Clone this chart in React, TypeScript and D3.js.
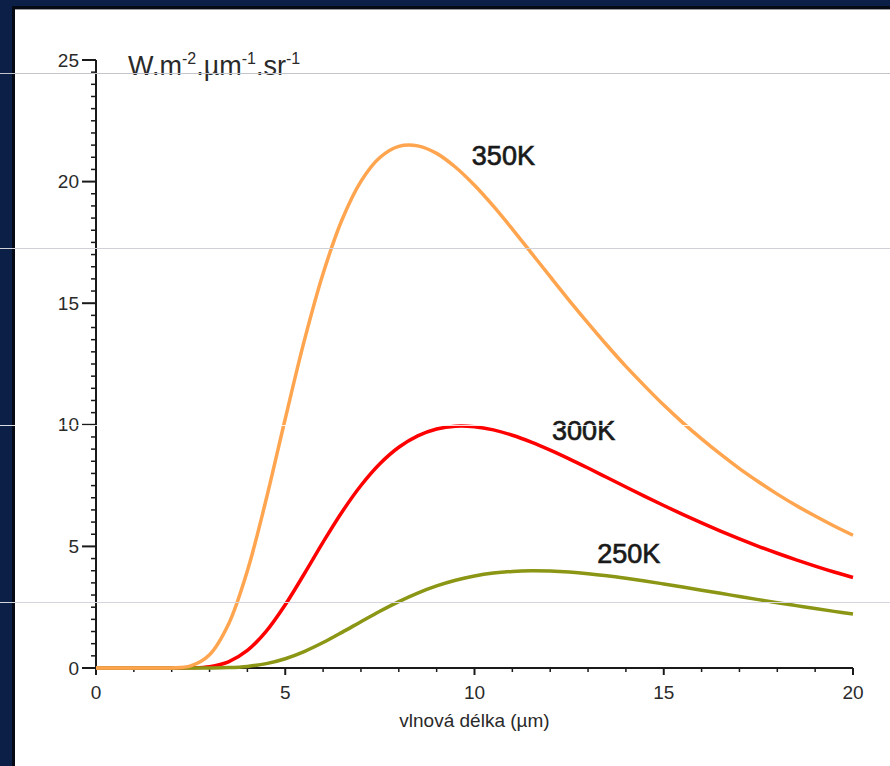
import React from "react";
import * as d3 from "d3";

const wavelengths = [0,0.5,1,1.5,2,2.5,3,3.5,4,4.5,5,5.5,6,6.5,7,7.5,8,8.5,9,9.5,10,10.5,11,11.5,12,12.5,13,13.5,14,14.5,15,15.5,16,16.5,17,17.5,18,18.5,19,19.5,20];
const k350 = [0,0,0,0,0.004,0.088,0.549,1.80,4.00,6.96,10.25,13.44,16.22,18.43,20.01,20.99,21.45,21.47,21.16,20.59,19.85,18.99,18.05,17.07,16.09,15.12,14.18,13.27,12.40,11.59,10.81,10.09,9.42,8.79,8.20,7.66,7.15,6.68,6.25,5.84,5.46];
const k300 = [0,0,0,0,0.0001,0.006,0.056,0.254,0.722,1.518,2.602,3.865,5.174,6.415,7.504,8.399,9.077,9.546,9.829,9.945,9.922,9.790,9.572,9.289,8.960,8.601,8.222,7.833,7.442,7.059,6.682,6.317,5.968,5.631,5.310,5.004,4.718,4.448,4.190,3.947,3.722];
const k250 = [0,0,0,0,0,0.0001,0.002,0.016,0.066,0.180,0.382,0.676,1.046,1.466,1.905,2.335,2.732,3.082,3.375,3.608,3.783,3.903,3.972,3.999,3.987,3.946,3.880,3.793,3.690,3.577,3.455,3.329,3.201,3.070,2.940,2.811,2.686,2.565,2.444,2.329,2.219];

const seriesNames = ["300K", "250K", "350K"];
const seriesColors = ["#ff0000", "#8a9614", "#ffa54f"];
const seriesValues = [k300, k250, k350];
const labelPos = [[12.05, 9.38], [13.24, 4.32], [9.93, 20.7]];

const xTickLabels = ["0", "5", "10", "15", "20"];
const yTickLabels = ["0", "5", "10", "15", "20", "25"];
const xTitle = "vlnová délka (µm)";

export default function App() {
  const W = 890, H = 766;
  const x = d3.scaleLinear().domain([0, 20]).range([96, 853]);
  const y = d3.scaleLinear().domain([0, 25]).range([668, 60]);
  const line = (vals: number[]) =>
    d3.line<number>()
      .x((_, i) => x(wavelengths[i]))
      .y((d) => y(d))
      .curve(d3.curveCatmullRom.alpha(0.5))(vals) || "";

  const yMinor = d3.range(0, 25.001, 0.5);
  const xMinor = d3.range(0, 20.001, 1);
  const font = "Liberation Sans, Arial, sans-serif";
  const guides = [
    { y: 73, c: "#c4c4cc" },
    { y: 248, c: "#d0d0d8" },
    { y: 425, c: "#ffffff" },
    { y: 602, c: "#d4d4dc" },
  ];

  return (
    <svg width={W} height={H} style={{ position: "absolute", left: 0, top: 0, background: "#fff" }} fontFamily={font}>
      <rect x={0} y={0} width={W} height={H} fill="#ffffff" />
      {/* frame */}
      <rect x={0} y={0} width={W} height={6} fill="#0b1f47" />
      <rect x={0} y={6} width={W} height={3} fill="#050a14" />
      <rect x={0} y={9} width={W} height={1} fill="#9a9a9a" />
      <rect x={0} y={0} width={12} height={H} fill="#0b1f47" />
      <rect x={12} y={6} width={3} height={H} fill="#050a14" />

      {/* y axis */}
      <line x1={96} x2={96} y1={y(25)} y2={673} stroke="#1a1a1a" strokeWidth={2} />
      {yMinor.map((v) => (
        <line key={"ym" + v} x1={v % 5 === 0 ? 82 : 91} x2={96} y1={y(v)} y2={y(v)} stroke="#1a1a1a" strokeWidth={v % 5 === 0 ? 2 : 1.5} />
      ))}
      {yTickLabels.map((t) => (
        <text key={"yl" + t} x={79} y={y(+t)} dy="0.35em" textAnchor="end" fontSize={19} fill="#2a2a2a">{t}</text>
      ))}

      {/* x axis */}
      <line x1={96} x2={x(20)} y1={668} y2={668} stroke="#1a1a1a" strokeWidth={2} />
      {xMinor.map((v) => (
        <line key={"xm" + v} x1={x(v)} x2={x(v)} y1={668} y2={v % 5 === 0 ? 675 : 672} stroke="#1a1a1a" strokeWidth={v % 5 === 0 ? 2 : 1.5} />
      ))}
      {xTickLabels.map((t) => (
        <text key={"xl" + t} x={x(+t)} y={699} textAnchor="middle" fontSize={19} fill="#2a2a2a">{t}</text>
      ))}
      <text x={x(10)} y={727} textAnchor="middle" fontSize={19} fill="#2a2a2a">{xTitle}</text>

      {/* unit label */}
      <text x={x(0.845)} y={y(24.38)} fontSize={27} fill="#2a2a2a">
        W.m<tspan fontSize={16} dy={-11}>-2</tspan>
        <tspan dy={11}>.µm</tspan><tspan fontSize={16} dy={-11}>-1</tspan>
        <tspan dy={11}>.sr</tspan><tspan fontSize={16} dy={-11}>-1</tspan>
      </text>

      {/* curves */}
      {seriesValues.map((vals, i) => (
        <path key={seriesNames[i]} d={line(vals)} fill="none" stroke={seriesColors[i]} strokeWidth={3.5} strokeLinejoin="round" />
      ))}
      {seriesNames.map((n, i) => (
        <text key={"lab" + n} x={x(labelPos[i][0])} y={y(labelPos[i][1])} fontSize={27} fill="#1a1a1a" stroke="#1a1a1a" strokeWidth={0.7}>{n}</text>
      ))}

      {/* guide lines */}
      {guides.map((g) => (
        <line key={"g" + g.y} x1={0} x2={W} y1={g.y + 0.5} y2={g.y + 0.5} stroke={g.c} strokeWidth={1} opacity={g.y === 425 ? 0.85 : 1} />
      ))}
    </svg>
  );
}
